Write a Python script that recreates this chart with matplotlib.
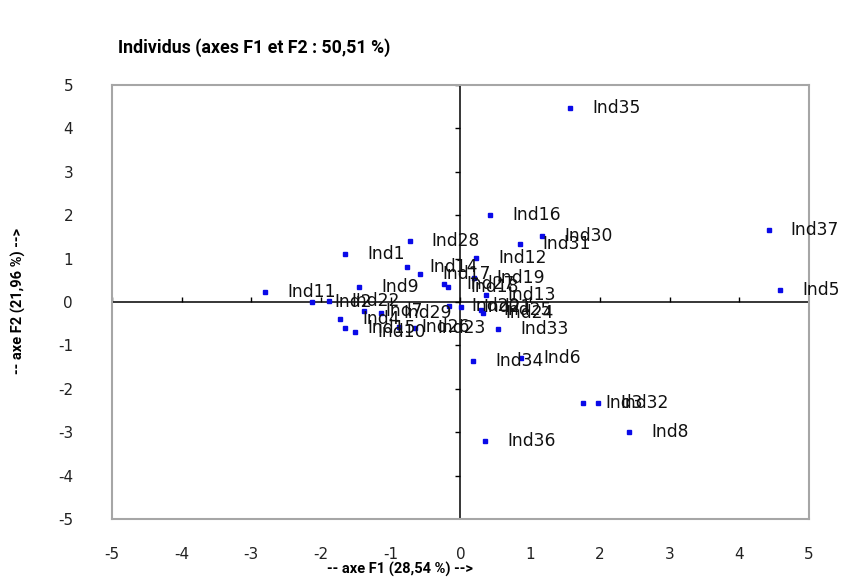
import numpy as np
import matplotlib
matplotlib.use("Agg")
import matplotlib.pyplot as plt
from matplotlib.markers import TICKUP, TICKLEFT

plt.rcParams["axes.unicode_minus"] = False

# ACP - observations on the F1/F2 plane
labels = ["Ind%d" % i for i in range(1, 38)]
f1 = [-1.65, -2.13, 1.76, -1.73, 4.58, 0.87, -1.39, 2.42, -1.46, -1.51,
      -2.80, 0.22, 0.36, -0.76, -1.65, 0.43, -0.58, -0.18, 0.19, -0.16,
      0.01, -1.88, -0.65, 0.32, 0.30, -0.88, -0.23, -0.73, -1.14, 1.17,
      0.85, 1.98, 0.54, 0.18, 1.57, 0.35, 4.42]
f2 = [1.10, 0.00, -2.33, -0.39, 0.28, -1.30, -0.20, -2.99, 0.35, -0.70,
      0.24, 1.01, 0.15, 0.80, -0.60, 2.01, 0.64, 0.34, 0.55, -0.09,
      -0.12, 0.03, -0.60, -0.26, -0.18, -0.58, 0.41, 1.40, -0.25, 1.53,
      1.34, -2.33, -0.62, -1.35, 4.48, -3.20, 1.67]
ticks = list(range(-5, 6))

fig = plt.figure(figsize=(8.47, 5.79), dpi=100)
ax = fig.add_axes([0.1322, 0.1036, 0.8229, 0.7496])

ax.set_xlim(-5, 5)
ax.set_ylim(-5, 5)

# crossing axes through the origin, with their own small ticks
ax.axhline(0, color="black", lw=1.1, zorder=1)
ax.axvline(0, color="black", lw=1.1, zorder=1)
ax.plot(ticks, [0] * len(ticks), ls="none", marker=TICKUP, ms=3.5, mew=1, color="black", zorder=1)
ax.plot([0] * len(ticks), ticks, ls="none", marker=TICKLEFT, ms=3.5, mew=1, color="black", zorder=1)

ax.plot(f1, f2, ls="none", marker="s", ms=3.2, mfc="#0a0ae8", mec="#0a0ae8", zorder=3)
for lab, x, y in zip(labels, f1, f2):
    ax.annotate(lab, (x, y), xytext=(16, 0), textcoords="offset points",
                ha="left", va="center", fontsize=12.3, color="#111111",
                family="DejaVu Sans", zorder=4)

ax.set_xticks(ticks)
ax.set_yticks(ticks)
ax.tick_params(length=0, labelsize=11, colors="#222222")
ax.tick_params(axis="x", pad=20)
ax.tick_params(axis="y", pad=28)
for s in ax.spines.values():
    s.set_color("#a6a6a6")
    s.set_linewidth(1.5)

fig.text(0.139, 0.918, "Individus (axes F1 et F2 : 50,51 %)", fontsize=12.8,
         fontweight="bold", family=["Roboto", "Liberation Sans"],
         ha="left", va="center")
fig.text(0.472, 0.017, "-- axe F1 (28,54 %) -->", fontsize=10.5, fontweight="bold",
         family=["Roboto", "Liberation Sans"], ha="center", va="center")
fig.text(0.022, 0.48, "-- axe F2 (21,96 %) -->", fontsize=10.5, fontweight="bold",
         family=["Roboto", "Liberation Sans"], ha="center", va="center",
         rotation=90)

fig.savefig("out.png", dpi=100)
